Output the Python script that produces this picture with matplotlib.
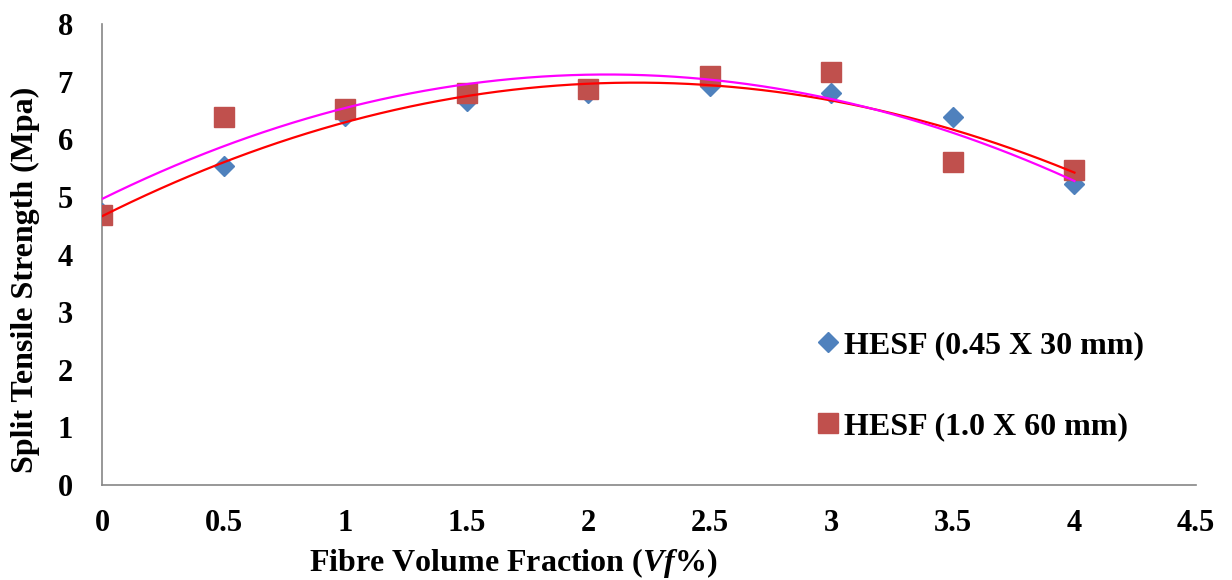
import numpy as np
import matplotlib
matplotlib.use("Agg")
import matplotlib.pyplot as plt

plt.rcParams['font.family'] = ['Liberation Serif', 'DejaVu Serif']
plt.rcParams['font.weight'] = 'bold'
plt.rcParams['mathtext.fontset'] = 'custom'
plt.rcParams['mathtext.rm'] = 'Liberation Serif:bold'
plt.rcParams['mathtext.bfit'] = 'Liberation Serif:bold:italic'
plt.rcParams['mathtext.it'] = 'Liberation Serif:bold:italic'

vf = [0, 0.5, 1, 1.5, 2, 2.5, 3, 3.5, 4]
hesf_030 = [4.72, 5.53, 6.40, 6.66, 6.81, 6.93, 6.81, 6.38, 5.23]
hesf_060 = [4.68, 6.38, 6.52, 6.81, 6.88, 7.09, 7.16, 5.60, 5.46]
labels = ["HESF (0.45 X 30 mm)", "HESF (1.0 X 60 mm)"]
xticks = [0, 0.5, 1, 1.5, 2, 2.5, 3, 3.5, 4, 4.5]
xticklabels = ["0", "0.5", "1", "1.5", "2", "2.5", "3", "3.5", "4", "4.5"]
yticks = [0, 1, 2, 3, 4, 5, 6, 7, 8]

W, H = 1232, 580
fig = plt.figure(figsize=(W / 100, H / 100), dpi=100)
ax = fig.add_axes([102 / W, 1 - 485 / H, 1094 / W, 461 / H])

blue = '#4F81BD'
red = '#C0504D'

xs = np.linspace(min(vf), max(vf), 200)
p1 = np.polyfit(vf, hesf_030, 2)
p2 = np.polyfit(vf, hesf_060, 2)

ax.plot(vf, hesf_030, linestyle='none', marker='D', markersize=10, color=blue,
        label=labels[0], zorder=3)
ax.plot(vf, hesf_060, linestyle='none', marker='s', markersize=14, color=red,
        label=labels[1], zorder=4)
ax.plot(xs, np.polyval(p1, xs), color='#FF0000', lw=1.6, zorder=5)
ax.plot(xs, np.polyval(p2, xs), color='#FF00FF', lw=1.6, zorder=5)

ax.set_xlim(0, 4.5)
ax.set_ylim(0, 8)
ax.set_xticks(xticks)
ax.set_xticklabels(xticklabels)
ax.set_yticks(yticks)
ax.tick_params(length=0, labelsize=22)
ax.tick_params(axis='x', pad=17)
ax.tick_params(axis='y', pad=21)
for s in ['top', 'right']:
    ax.spines[s].set_visible(False)
for s in ['left', 'bottom']:
    ax.spines[s].set_color('#868686')
    ax.spines[s].set_linewidth(1.2)

fig.text(25 / W, 1 - 280 / H, "Split Tensile Strength (Mpa)", rotation=90,
         ha='center', va='center', fontsize=23, fontweight='bold')
fig.text(513 / W, 1 - 563 / H, r"Fibre Volume Fraction ($\mathbfit{Vf}$%)",
         ha='center', va='center', fontsize=23, fontweight='bold')

leg = ax.legend(loc='upper left', bbox_to_anchor=(812 / W, 1 - 331 / H),
                bbox_transform=fig.transFigure, frameon=False,
                fontsize=23, handletextpad=0.0, labelspacing=1.62, handlelength=1.0,
                borderaxespad=0, borderpad=0)

fig.savefig("out.png", dpi=100)
